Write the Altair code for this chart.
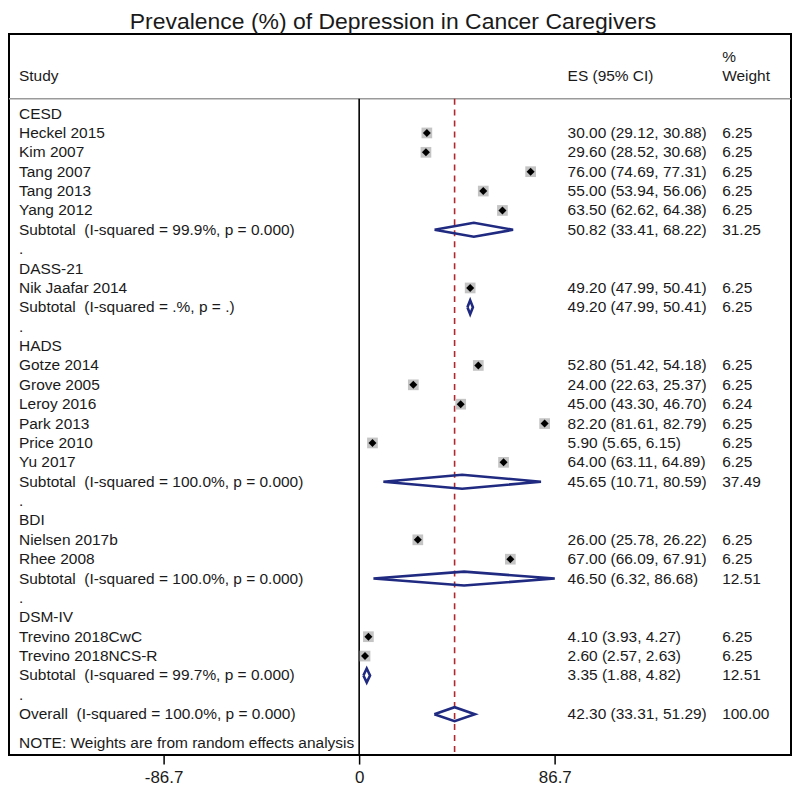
import altair as alt
import pandas as pd

# ---------------- data ----------------
group_names = ["CESD", "DASS-21", "HADS", "BDI", "DSM-IV"]
study_names = [
    ["Heckel 2015", "Kim 2007", "Tang 2007", "Tang 2013", "Yang 2012"],
    ["Nik Jaafar 2014"],
    ["Gotze 2014", "Grove 2005", "Leroy 2016", "Park 2013", "Price 2010", "Yu 2017"],
    ["Nielsen 2017b", "Rhee 2008"],
    ["Trevino 2018CwC", "Trevino 2018NCS-R"],
]
study_es = [[30.00, 29.60, 76.00, 55.00, 63.50], [49.20],
            [52.80, 24.00, 45.00, 82.20, 5.90, 64.00], [26.00, 67.00], [4.10, 2.60]]
study_lo = [[29.12, 28.52, 74.69, 53.94, 62.62], [47.99],
            [51.42, 22.63, 43.30, 81.61, 5.65, 63.11], [25.78, 66.09], [3.93, 2.57]]
study_hi = [[30.88, 30.68, 77.31, 56.06, 64.38], [50.41],
            [54.18, 25.37, 46.70, 82.79, 6.15, 64.89], [26.22, 67.91], [4.27, 2.63]]
study_w = [[6.25, 6.25, 6.25, 6.25, 6.25], [6.25],
           [6.25, 6.25, 6.24, 6.25, 6.25, 6.25], [6.25, 6.25], [6.25, 6.25]]

sub_es = [50.82, 49.20, 45.65, 46.50, 3.35]
sub_lo = [33.41, 47.99, 10.71, 6.32, 1.88]
sub_hi = [68.22, 50.41, 80.59, 86.68, 4.82]
sub_w = [31.25, 6.25, 37.49, 12.51, 12.51]
sub_het = ["99.9%, p = 0.000", ".%, p = .", "100.0%, p = 0.000",
           "100.0%, p = 0.000", "99.7%, p = 0.000"]

overall_es, overall_lo, overall_hi, overall_w = 42.30, 33.31, 51.29, 100.00
overall_het = "100.0%, p = 0.000"

tick_values = [-86.7, 0, 86.7]
title_text = "Prevalence (%) of Depression in Cancer Caregivers"
note_text = "NOTE: Weights are from random effects analysis"

# ---------------- build tables ----------------
SP = "\u00a0\u00a0"
text_rows, study_rows, dia_rows = [], [], []
r = 0
for g, name in enumerate(group_names):
    text_rows.append(dict(row=r, label=name, es="", w=""))
    r += 1
    for i, s in enumerate(study_names[g]):
        es, lo, hi, w = study_es[g][i], study_lo[g][i], study_hi[g][i], study_w[g][i]
        text_rows.append(dict(row=r, label=s, es=f"{es:.2f} ({lo:.2f}, {hi:.2f})", w=f"{w:.2f}"))
        study_rows.append(dict(row=r, es=es, lo=lo, hi=hi))
        r += 1
    text_rows.append(dict(row=r, label=f"Subtotal{SP}(I-squared = {sub_het[g]})",
                          es=f"{sub_es[g]:.2f} ({sub_lo[g]:.2f}, {sub_hi[g]:.2f})",
                          w=f"{sub_w[g]:.2f}"))
    dia_rows.append(dict(id=g, row=r, es=sub_es[g], lo=sub_lo[g], hi=sub_hi[g]))
    r += 1
    text_rows.append(dict(row=r, label=".", es="", w=""))
    r += 1
text_rows.append(dict(row=r, label=f"Overall{SP}(I-squared = {overall_het})",
                      es=f"{overall_es:.2f} ({overall_lo:.2f}, {overall_hi:.2f})",
                      w=f"{overall_w:.2f}"))
dia_rows.append(dict(id=99, row=r, es=overall_es, lo=overall_lo, hi=overall_hi))
last_row = r
text_rows.append(dict(row=last_row + 1.5, label=note_text, es="", w=""))

text_df = pd.DataFrame(text_rows)
study_df = pd.DataFrame(study_rows)

H = 0.36
poly = []
for d in dia_rows:
    pts = [(d["lo"], d["row"]), (d["es"], d["row"] - H), (d["hi"], d["row"]),
           (d["es"], d["row"] + H), (d["lo"], d["row"])]
    for k, (xx, yy) in enumerate(pts):
        poly.append(dict(id=d["id"], k=k, x=xx, y=yy))
poly_df = pd.DataFrame(poly)

head_y = -0.77
Y_TOP, Y_BOT = -4.11, 33.11
header_df = pd.DataFrame([
    dict(row=-1.95, label="Study", x=10),
    dict(row=-1.95, label="ES (95% CI)", x=560),
    dict(row=-2.93, label="%", x=715),
    dict(row=-1.95, label="Weight", x=715),
])
vline_df = pd.DataFrame([dict(x=0, y=head_y, y2=Y_BOT)])
dash_df = pd.DataFrame([dict(x=overall_es, y=head_y, y2=Y_BOT)])
hline_df = pd.DataFrame([dict(y=head_y)])

# ---------------- scales ----------------
W, Hh = 784, 723
xs = alt.Scale(domain=[-155.2, 191.4], nice=False, zero=False)
ys = alt.Scale(domain=[Y_TOP, Y_BOT], reverse=True, nice=False, zero=False)
FONT = "Liberation Sans"
FS = 15.5
TC = "#1a1a1a"

xaxis = alt.Axis(values=tick_values, title=None,
                 labelExpr="datum.value == 0 ? '0' : (datum.value < 0 ? '-' + format(-datum.value, '.1f') : format(datum.value, '.1f'))")

def X(field):
    return alt.X(field, scale=xs, axis=xaxis)

def Y(field):
    return alt.Y(field, scale=ys, axis=None)

hline = alt.Chart(hline_df).mark_rule(color="#9a9a9a", strokeWidth=1.5).encode(
    x=alt.value(0), x2=alt.value(W), y=Y("y:Q"))

vline = alt.Chart(vline_df).mark_rule(color="black", strokeWidth=1.6).encode(
    x=X("x:Q"), y=Y("y:Q"), y2="y2:Q")

dash = alt.Chart(dash_df).mark_rule(color="#b0282e", strokeWidth=1.6, strokeDash=[6, 5]).encode(
    x=X("x:Q"), y=Y("y:Q"), y2="y2:Q")

ci = alt.Chart(study_df).mark_rule(color="black", strokeWidth=1).encode(
    x=X("lo:Q"), x2="hi:Q", y=Y("row:Q"))

boxes = alt.Chart(study_df).mark_point(shape="square", filled=True, size=115,
                                       color="#c4c4c4", opacity=1).encode(
    x=X("es:Q"), y=Y("row:Q"))

dots = alt.Chart(study_df).mark_point(shape="diamond", filled=True, size=64,
                                      color="black", opacity=1).encode(
    x=X("es:Q"), y=Y("row:Q"))

diamonds = alt.Chart(poly_df).mark_line(color="#1f2a80", strokeWidth=2.6,
                                        strokeJoin="miter").encode(
    x=X("x:Q"), y=Y("y:Q"), detail="id:N", order="k:Q")

def txt(df, field, xpx):
    return alt.Chart(df).mark_text(align="left", baseline="middle", font=FONT,
                                   fontSize=FS, color=TC).encode(
        x=alt.value(xpx), y=Y("row:Q"), text=f"{field}:N")

lab = txt(text_df, "label", 10)
est = txt(text_df, "es", 560)
wt = txt(text_df, "w", 715)
head = alt.Chart(header_df).mark_text(align="left", baseline="middle", font=FONT,
                                      fontSize=FS, color=TC).encode(
    x=alt.X("x:Q", scale=None), y=Y("row:Q"), text="label:N")

chart = alt.layer(hline, vline, dash, ci, boxes, dots, diamonds, lab, est, wt, head).properties(
    width=W, height=Hh, padding={"left": 0, "top": 2, "right": 0, "bottom": 0},
    title=alt.TitleParams(title_text, fontSize=23, font=FONT, fontWeight="normal",
                          color=TC, offset=0, anchor="middle", dx=-7),
).configure(background="white").configure_view(
    stroke="black", strokeWidth=2
).configure_axisX(
    domain=False, grid=False, ticks=True, tickSize=9, tickColor="black", tickWidth=1.5,
    labelFontSize=17, labelFont="'Liberation Sans Narrow', 'Liberation Sans', sans-serif",
    labelColor=TC, labelPadding=5
)

chart.save("out.html", embed_options={"renderer": "svg", "actions": False})
